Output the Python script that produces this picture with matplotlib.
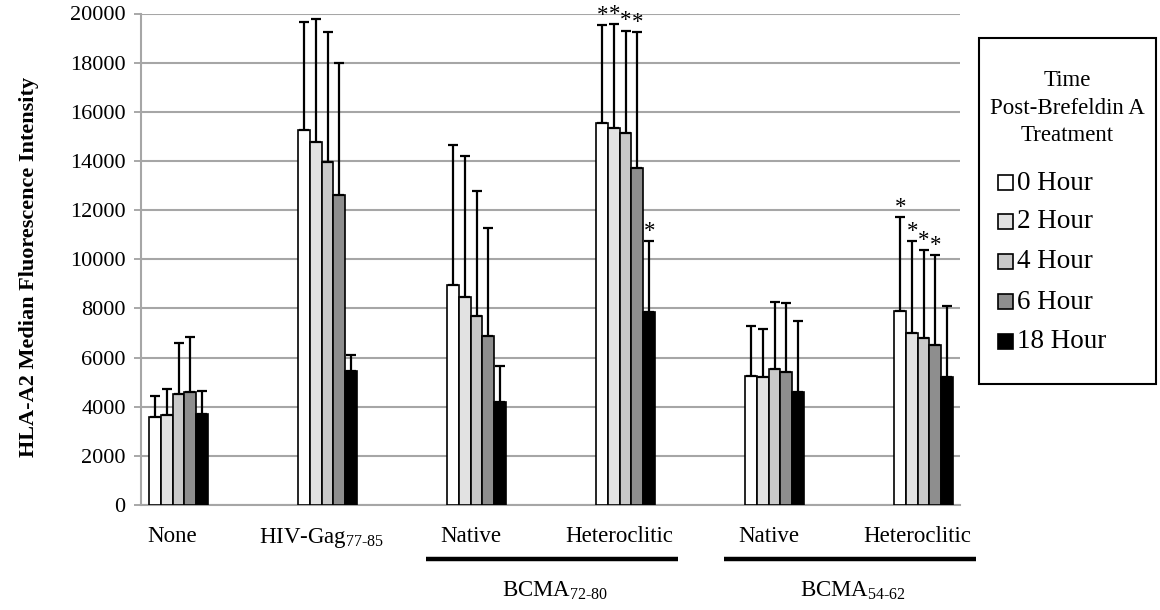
import matplotlib
matplotlib.use("Agg")
import matplotlib.pyplot as plt
from matplotlib.patches import Rectangle
from matplotlib.transforms import blended_transform_factory
import numpy as np

plt.rcParams["font.family"] = ["Liberation Serif", "DejaVu Serif"]
plt.rcParams["mathtext.fontset"] = "custom"
plt.rcParams["mathtext.rm"] = "Liberation Serif"
plt.rcParams["mathtext.it"] = "Liberation Serif:italic"
plt.rcParams["mathtext.bf"] = "Liberation Serif:bold"

# Peptide groups along the x axis
groups = ["None", "HIV-Gag$_{\\mathrm{77\u201085}}$", "Native", "Heteroclitic", "Native", "Heteroclitic"]

# Time after Brefeldin A treatment
series = ["0 Hour", "2 Hour", "4 Hour", "6 Hour", "18 Hour"]
colors = ["#ffffff", "#e2e2e2", "#c9c9c9", "#8e8e8e", "#000000"]

# Median fluorescence intensity (rows: groups, cols: time points)
means = np.array([
    [3600, 3670, 4500, 4580, 3690],
    [15250, 14780, 13940, 12630, 5440],
    [8950, 8450, 7690, 6860, 4180],
    [15540, 15340, 15120, 13730, 7840],
    [5260, 5190, 5550, 5410, 4580],
    [7910, 7010, 6800, 6520, 5200],
])
# Upper end of each error bar
upper = np.array([
    [4450, 4730, 6590, 6820, 4650],
    [19650, 19760, 19230, 17970, 6120],
    [14640, 14210, 12770, 11270, 5650],
    [19530, 19560, 19300, 19230, 10730],
    [7270, 7160, 8260, 8210, 7470],
    [11700, 10750, 10370, 10160, 8100],
])
# Significance markers (group, series)
significant = [(3, 0), (3, 1), (3, 2), (3, 3), (3, 4),
               (5, 0), (5, 1), (5, 2), (5, 3)]

# Bracketed peptide families
families = ["BCMA$_{\\mathrm{72\u201080}}$", "BCMA$_{\\mathrm{54\u201062}}$"]
family_members = [(2, 3), (4, 5)]

fig = plt.figure(figsize=(11.6, 6.1), dpi=100)
ax = fig.add_axes([141 / 1160, 1 - 505 / 610, (960 - 141) / 1160, (505 - 13.5) / 610])

width = 0.079
x = np.arange(len(groups))
offsets = (np.arange(len(series)) - 2) * width

for j, (lab, col) in enumerate(zip(series, colors)):
    xs = x + offsets[j]
    ax.bar(xs, means[:, j], width=width, color=col, edgecolor="black",
           linewidth=1.2, zorder=3, label=lab)
    ax.errorbar(xs, means[:, j], yerr=[np.zeros(len(groups)), upper[:, j] - means[:, j]],
                fmt="none", ecolor="black", elinewidth=1.6, capsize=3.5,
                capthick=1.6, zorder=4)

for g, s in significant:
    ax.annotate("*", xy=(x[g] + offsets[s], upper[g, s]), xytext=(0.3, 7),
                textcoords="offset points", ha="center", va="center",
                fontsize=16.5, zorder=5)

ax.set_ylim(0, 20000)
ax.set_xlim((141 - 178.5) / 149, (960 - 178.5) / 149)
ax.set_yticks(np.arange(0, 20001, 2000))
ax.tick_params(axis="y", labelsize=16, length=5, color="#999999", width=1.2, pad=6)
ax.set_xticks(x - 0.04)
ax.set_xticklabels(groups, fontsize=16.5)
ax.tick_params(axis="x", length=0, pad=15)
ax.yaxis.grid(True, color="#a6a6a6", linewidth=1.5, zorder=0)
ax.set_axisbelow(True)
for side in ["top", "right"]:
    ax.spines[side].set_visible(False)
for side in ["left", "bottom"]:
    ax.spines[side].set_color("#a6a6a6")
    ax.spines[side].set_linewidth(1.5)

ax.set_ylabel("HLA-A2 Median Fluorescence Intensity", fontsize=16,
              fontweight="bold")
ax.yaxis.set_label_coords(-0.124, 0.485)

# Family brackets under the x labels
trans = blended_transform_factory(ax.transData, ax.transAxes)
for name, (a, b) in zip(families, family_members):
    x0 = x[a] - 0.34
    x1 = x[b] + 0.35
    ax.plot([x0, x1], [-0.109, -0.109], color="black", linewidth=3.2,
            transform=trans, clip_on=False, solid_capstyle="butt")
    ax.text((x0 + x1) / 2 + 0.02, -0.175, name, transform=trans, ha="center",
            va="center", fontsize=16.5)

# Legend box
lx0, ly0, lx1, ly1 = 979 / 1160, 1 - 384 / 610, 1156 / 1160, 1 - 38 / 610
fig.patches.append(Rectangle((lx0, ly0), lx1 - lx0, ly1 - ly0, transform=fig.transFigure,
                             facecolor="white", edgecolor="black", linewidth=1.5))
fig.text((lx0 + lx1) / 2, 1 - 108 / 610, "Time\nPost-Brefeldin A\nTreatment",
         ha="center", va="center", fontsize=16.5, linespacing=1.4)
entry_y = [183, 222, 262, 302, 342]
for lab, col, yy in zip(series, colors, entry_y):
    fig.patches.append(Rectangle((998 / 1160, 1 - (yy + 7) / 610), 15 / 1160, 15 / 610,
                                 transform=fig.transFigure, facecolor=col,
                                 edgecolor="black", linewidth=1.2))
    fig.text(1017 / 1160, 1 - yy / 610, lab, ha="left", va="center", fontsize=19.5)

fig.savefig("out.png", dpi=100)
